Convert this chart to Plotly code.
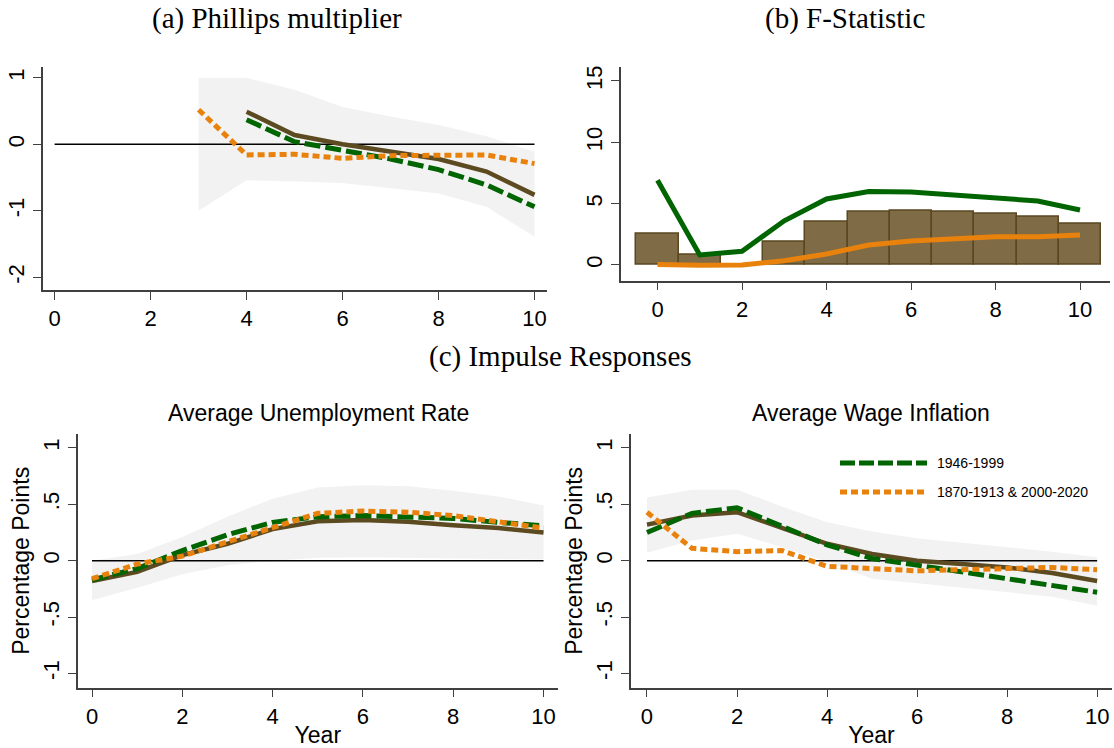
import plotly.graph_objects as go

W, H = 1114, 748

# ---------------- data ----------------
years = list(range(0, 11))

# (a) Phillips multiplier
pm_x_band = [3, 4, 5, 6, 7, 8, 9, 10]
pm_upper = [1.0, 1.0, 0.82, 0.56, 0.42, 0.29, 0.12, -0.11]
pm_lower = [-1.0, -0.54, -0.56, -0.58, -0.66, -0.74, -0.94, -1.39]
pm_x_base = [4, 5, 6, 7, 8, 9, 10]
pm_base = [0.49, 0.14, 0.0, -0.11, -0.22, -0.41, -0.76]
pm_post = [0.37, 0.04, -0.09, -0.22, -0.38, -0.61, -0.94]
pm_x_other = [3, 4, 5, 6, 7, 8, 9, 10]
pm_other = [0.52, -0.16, -0.15, -0.21, -0.17, -0.17, -0.16, -0.29]

# (b) F-statistic
f_bars = [2.58, 0.87, 0.0, 1.93, 3.53, 4.37, 4.46, 4.37, 4.18, 3.94, 3.40]
f_post = [6.9, 0.82, 1.12, 3.6, 5.38, 5.98, 5.94, 5.72, 5.45, 5.22, 4.48]
f_other = [0.05, -0.03, 0.0, 0.35, 0.9, 1.63, 1.96, 2.09, 2.31, 2.31, 2.45]

# (c) Impulse responses: unemployment
u_upper = [0.0, 0.06, 0.21, 0.39, 0.55, 0.65, 0.67, 0.66, 0.62, 0.57, 0.49]
u_lower = [-0.35, -0.24, -0.12, -0.04, 0.0, 0.025, 0.03, 0.03, 0.02, 0.015, 0.01]
u_base = [-0.18, -0.10, 0.05, 0.15, 0.28, 0.35, 0.36, 0.345, 0.315, 0.29, 0.25]
u_post = [-0.17, -0.07, 0.09, 0.23, 0.34, 0.39, 0.40, 0.39, 0.375, 0.34, 0.31]
u_other = [-0.16, -0.03, 0.04, 0.17, 0.30, 0.42, 0.44, 0.43, 0.40, 0.35, 0.29]

# (c) Impulse responses: wage inflation
w_upper = [0.56, 0.63, 0.63, 0.48, 0.34, 0.26, 0.20, 0.16, 0.12, 0.08, 0.03]
w_lower = [0.07, 0.18, 0.24, 0.12, -0.01, -0.16, -0.20, -0.235, -0.28, -0.32, -0.40]
w_base = [0.32, 0.40, 0.43, 0.29, 0.15, 0.06, 0.0, -0.03, -0.06, -0.11, -0.18]
w_post = [0.25, 0.42, 0.47, 0.30, 0.14, 0.02, -0.04, -0.09, -0.15, -0.21, -0.28]
w_other = [0.43, 0.11, 0.08, 0.09, -0.05, -0.065, -0.09, -0.08, -0.07, -0.06, -0.08]

zero_x = [0, 10]
zero_y = [0, 0]

legend_labels = ["1946-1999", "1870-1913 & 2000-2020"]
x_ticks = [0, 2, 4, 6, 8, 10]
pm_yticks = [-2, -1, 0, 1]
pm_yticklabels = ["-2", "-1", "0", "1"]
f_yticks = [0, 5, 10, 15]
ir_yticks = [-1, -0.5, 0, 0.5, 1]
ir_yticklabels = ["-1", "-.5", "0", ".5", "1"]

# ---------------- styles ----------------
GREEN = "#006400"
ORANGE = "#e8820c"
BROWN = "#5c4a20"
BAR_FILL = "#7f6b46"
BAR_LINE = "#5a4820"
BAND = "#f2f2f2"
SANS = "Liberation Sans, Arial, sans-serif"
SERIF = "Liberation Serif, Times New Roman, serif"

fig = go.Figure()


def px_x(p):
    return p / W


def px_y(p):
    return 1 - p / H


def band(xs, lo, hi, xa, ya):
    fig.add_trace(go.Scatter(x=xs + xs[::-1], y=hi + lo[::-1], fill="toself",
                             fillcolor=BAND, line=dict(width=0), mode="lines",
                             hoverinfo="skip", showlegend=False, xaxis=xa, yaxis=ya))


def line(xs, ys, color, width, dash, xa, ya):
    fig.add_trace(go.Scatter(x=xs, y=ys, mode="lines",
                             line=dict(color=color, width=width, dash=dash),
                             showlegend=False, xaxis=xa, yaxis=ya))


DASH_G = "16px,5px"
DOT_O = "7px,4px"

# panel (a)
band(pm_x_band, pm_lower, pm_upper, "x", "y")
line(zero_x, zero_y, "black", 1.5, "solid", "x", "y")
line(pm_x_base, pm_base, BROWN, 4.5, "solid", "x", "y")
line(pm_x_base, pm_post, GREEN, 5, DASH_G, "x", "y")
line(pm_x_other, pm_other, ORANGE, 5, DOT_O, "x", "y")

# panel (b)
fig.add_trace(go.Bar(x=years, y=f_bars, width=1, marker=dict(color=BAR_FILL,
                     line=dict(color=BAR_LINE, width=1.5)), showlegend=False,
                     xaxis="x2", yaxis="y2"))
line(years, f_post, GREEN, 5, "solid", "x2", "y2")
line(years, f_other, ORANGE, 5, "solid", "x2", "y2")

# panel (c) left
band(years, u_lower, u_upper, "x3", "y3")
line(zero_x, zero_y, "black", 1.5, "solid", "x3", "y3")
line(years, u_base, BROWN, 4.5, "solid", "x3", "y3")
line(years, u_post, GREEN, 5, DASH_G, "x3", "y3")
line(years, u_other, ORANGE, 5, DOT_O, "x3", "y3")

# panel (c) right
band(years, w_lower, w_upper, "x4", "y4")
line(zero_x, zero_y, "black", 1.5, "solid", "x4", "y4")
line(years, w_base, BROWN, 4.5, "solid", "x4", "y4")
line(years, w_post, GREEN, 5, DASH_G, "x4", "y4")
line(years, w_other, ORANGE, 5, DOT_O, "x4", "y4")

AX = dict(showgrid=False, zeroline=False, showline=True, linecolor="#404040",
          linewidth=1.5, ticks="outside", ticklen=8, tickwidth=1.2,
          tickcolor="#404040", tickfont=dict(family=SANS, size=22, color="black"))

TITLE_FONT = dict(family=SANS, size=23, color="black")

fig.update_layout(
    width=W, height=H, margin=dict(l=0, r=0, t=0, b=0),
    paper_bgcolor="white", plot_bgcolor="white", bargap=0,
    xaxis=dict(AX, domain=[px_x(42.6), px_x(547)], range=[-0.25, 10.26],
               tickvals=x_ticks, anchor="y"),
    yaxis=dict(AX, domain=[px_y(290), px_y(66.7)], range=[-2.19, 1.167],
               tickvals=pm_yticks, ticktext=pm_yticklabels, tickangle=-90, anchor="x"),
    xaxis2=dict(AX, domain=[px_x(621), px_x(1110)], range=[-0.864, 10.71],
                tickvals=x_ticks, anchor="y2"),
    yaxis2=dict(AX, domain=[px_y(280.7), px_y(66.7)], range=[-1.28, 16.16],
                tickvals=f_yticks, tickangle=-90, anchor="x2"),
    xaxis3=dict(AX, domain=[px_x(77.7), px_x(558)], range=[-0.317, 10.32],
                tickvals=x_ticks, anchor="y3",
                title=dict(text="Year", font=TITLE_FONT, standoff=2)),
    yaxis3=dict(AX, domain=[px_y(687.7), px_y(434)], range=[-1.127, 1.124],
                tickvals=ir_yticks, ticktext=ir_yticklabels, tickangle=-90, anchor="x3",
                title=dict(text="Percentage Points", font=TITLE_FONT, standoff=3)),
    xaxis4=dict(AX, domain=[px_x(631), px_x(1112)], range=[-0.355, 10.33],
                tickvals=x_ticks, anchor="y4",
                title=dict(text="Year", font=TITLE_FONT, standoff=2)),
    yaxis4=dict(AX, domain=[px_y(687.7), px_y(434)], range=[-1.127, 1.124],
                tickvals=ir_yticks, ticktext=ir_yticklabels, tickangle=-90, anchor="x4",
                title=dict(text="Percentage Points", font=TITLE_FONT, standoff=3)),
)

annotations = [
    dict(text="(a) Phillips multiplier", x=px_x(277), y=px_y(19), font=dict(family=SERIF, size=29, color="black")),
    dict(text="(b) F-Statistic", x=px_x(845), y=px_y(19), font=dict(family=SERIF, size=29, color="black")),
    dict(text="(c) Impulse Responses", x=px_x(560), y=px_y(356), font=dict(family=SERIF, size=29, color="black")),
    dict(text="Average Unemployment Rate", x=px_x(318), y=px_y(413), font=dict(family=SANS, size=23, color="black")),
    dict(text="Average Wage Inflation", x=px_x(871), y=px_y(413), font=dict(family=SANS, size=23, color="black")),
    dict(text=legend_labels[0], x=px_x(935), y=px_y(463), xanchor="left", font=dict(family=SANS, size=14, color="black")),
    dict(text=legend_labels[1], x=px_x(935), y=px_y(492), xanchor="left", font=dict(family=SANS, size=14, color="black")),
]
for a in annotations:
    a.setdefault("xanchor", "center")
    a.update(xref="paper", yref="paper", yanchor="middle", showarrow=False)
fig.update_layout(annotations=annotations)

fig.update_layout(shapes=[
    dict(type="line", xref="paper", yref="paper", x0=px_x(840), x1=px_x(927),
         y0=px_y(463), y1=px_y(463), line=dict(color=GREEN, width=5, dash="15px,4px")),
    dict(type="line", xref="paper", yref="paper", x0=px_x(840), x1=px_x(927),
         y0=px_y(492), y1=px_y(492), line=dict(color=ORANGE, width=5, dash="7px,4px")),
])

fig.write_html("out.html",
               config={"displayModeBar": False},
               post_script="document.body.style.margin='0';document.body.style.overflow='hidden';")
